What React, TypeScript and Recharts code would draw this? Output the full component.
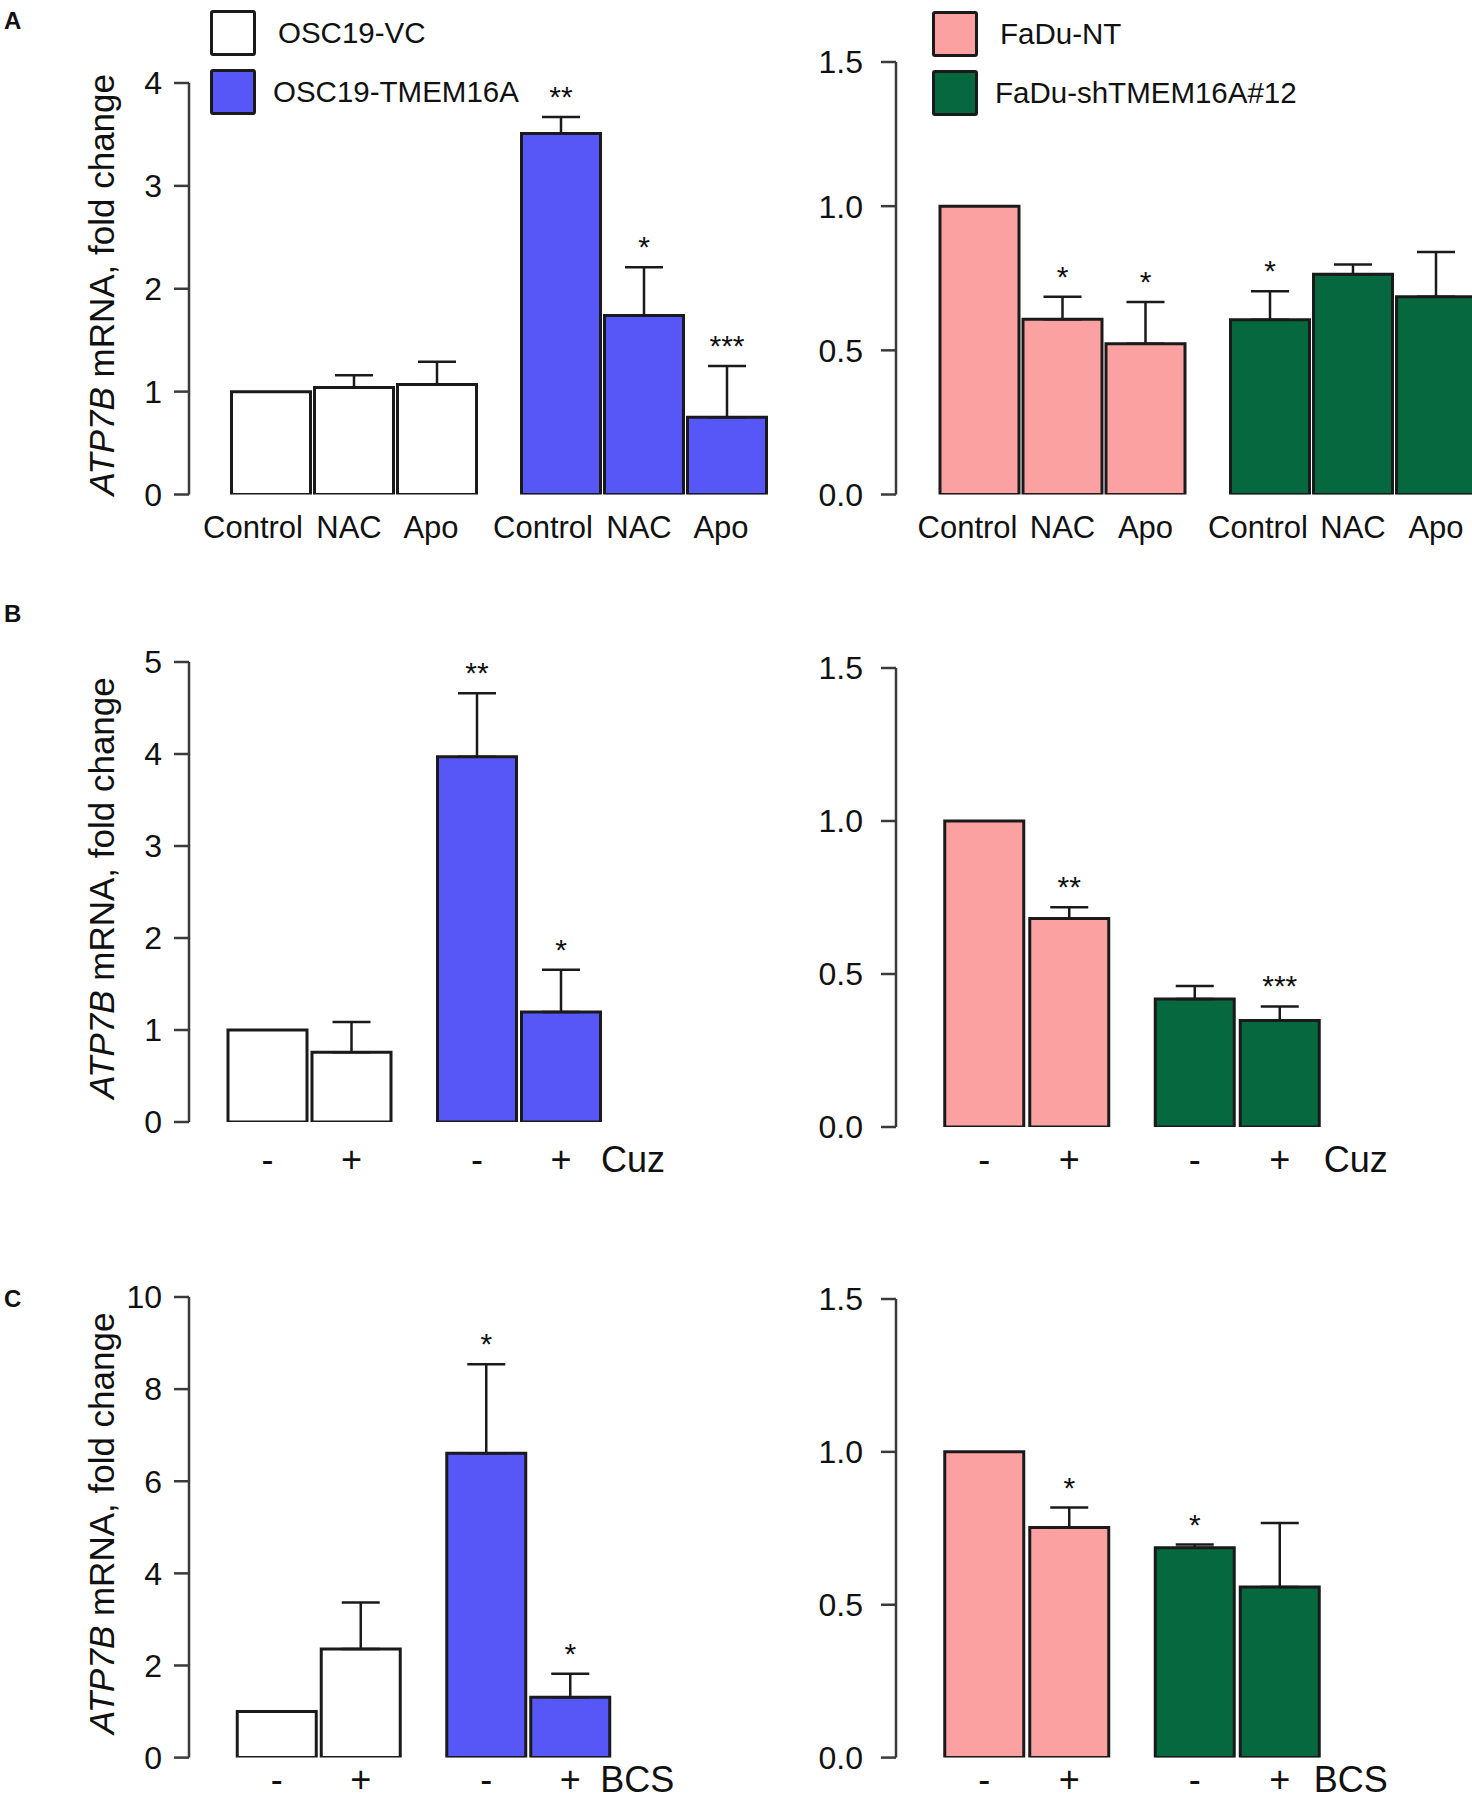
import { BarChart, Bar, XAxis, YAxis, ErrorBar, LabelList, Cell, Legend } from "recharts";

const FONT = "'Liberation Sans', Arial, Helvetica, sans-serif";
const INK = "#1a1a1a";
const AXIS = "#3a3a3a";
const TEXT = "#111111";

const WHITE = "#ffffff";
const BLUE = "#5757f7";
const PINK = "#fca1a1";
const GREEN = "#06683f";

// cell lines
const oscLines = ["OSC19-VC", "OSC19-TMEM16A"];
const faduLines = ["FaDu-NT", "FaDu-shTMEM16A#12"];

// A: ROS scavengers
const treatmentsA = ["Control", "NAC", "Apo"];
const oscVcA = [1.0, 1.04, 1.07];
const oscVcErrA = [0, 0.12, 0.22];
const oscVcSigA = ["", "", ""];
const oscTmA = [3.51, 1.74, 0.75];
const oscTmErrA = [0.16, 0.47, 0.5];
const oscTmSigA = ["**", "*", "***"];

const faduNtA = [1.0, 0.608, 0.523];
const faduNtErrA = [0, 0.078, 0.145];
const faduNtSigA = ["", "*", "*"];
const faduShA = [0.606, 0.764, 0.686];
const faduShErrA = [0.099, 0.034, 0.155];
const faduShSigA = ["*", "", ""];

// B: cuprizone
const treatmentsB = ["-", "+"];
const oscVcB = [1.0, 0.758];
const oscVcErrB = [0, 0.33];
const oscVcSigB = ["", ""];
const oscTmB = [3.97, 1.196];
const oscTmErrB = [0.69, 0.46];
const oscTmSigB = ["**", "*"];

const faduNtB = [1.0, 0.681];
const faduNtErrB = [0, 0.037];
const faduNtSigB = ["", "**"];
const faduShB = [0.418, 0.348];
const faduShErrB = [0.043, 0.046];
const faduShSigB = ["", "***"];

// C: BCS
const oscVcC = [1.0, 2.36];
const oscVcErrC = [0, 1.01];
const oscVcSigC = ["", ""];
const oscTmC = [6.61, 1.31];
const oscTmErrC = [1.93, 0.51];
const oscTmSigC = ["*", "*"];

const faduNtC = [1.0, 0.753];
const faduNtErrC = [0, 0.065];
const faduNtSigC = ["", "*"];
const faduShC = [0.686, 0.558];
const faduShErrC = [0.011, 0.209];
const faduShSigC = ["*", ""];

const oscTicksA = [0, 1, 2, 3, 4];
const oscTicksB = [0, 1, 2, 3, 4, 5];
const oscTicksC = [0, 2, 4, 6, 8, 10];
const faduTicks = [0, 0.5, 1.0, 1.5];

type Row = Record<string, any>;

// one row per cell line, one v/e/s triple per treatment
function buildRows(lines: string[], values: number[][], errs: number[][], sigs: string[][]): Row[] {
  return lines.map((line, i) => {
    const row: Row = { line };
    values[i].forEach((v, j) => {
      row[`v${j}`] = v;
      row[`e${j}`] = errs[i][j];
      row[`eb${j}`] = errs[i][j] > 0 ? [0, errs[i][j]] : null;
      row[`s${j}`] = sigs[i][j];
    });
    return row;
  });
}

const renderYLabel = (props: any) => {
  const vb = props.viewBox;
  const cx = vb.x + 25;
  const cy = vb.y + vb.height / 2 - 4;
  return (
    <text
      x={cx}
      y={cy}
      transform={`rotate(-90, ${cx}, ${cy})`}
      textAnchor="middle"
      fontSize={35}
      fontFamily={FONT}
      fill={TEXT}
    >
      <tspan fontStyle="italic">ATP7B</tspan>
      {" mRNA, fold change"}
    </text>
  );
};

const makeLegend = (names: string[], colors: string[]) => () => (
  <div style={{ fontFamily: FONT, color: TEXT }}>
    {names.map((n, i) => (
      <div key={n} style={{ display: "flex", alignItems: "center", height: 46, marginBottom: 13 }}>
        <span
          style={{
            width: 40,
            height: 40,
            background: colors[i],
            border: `3px solid ${INK}`,
            borderRadius: 3,
            display: "inline-block",
          }}
        />
        <span style={{ marginLeft: i === 0 ? 22 : 17, fontSize: 29.5 }}>{n}</span>
      </div>
    ))}
  </div>
);

interface PanelProps {
  left: number;
  top: number;
  width: number;
  height: number;
  axisX: number;
  plotTop: number;
  plotBottom: number;
  padLeft: number;
  band: number;
  barGap: number;
  rows: Row[];
  colors: string[];
  treatments: string[];
  labelDx?: number[];
  labelFont: number;
  labelDy: number;
  tail?: string;
  tailDx?: number;
  domain: [number, number];
  ticks: number[];
  decimals: number;
  tickMargin: number;
  yLabel?: boolean;
  legend?: { names: string[]; colors: string[]; left: number; top: number };
}

function Panel(p: PanelProps) {
  const plotRight = p.axisX + p.padLeft + p.band * p.rows.length;
  const margin = {
    top: p.plotTop - p.top,
    bottom: p.top + p.height - p.plotBottom,
    left: p.axisX - p.left - 100,
    right: p.left + p.width - plotRight,
  };

  const marks = (j: number) => (props: any) => {
    const vb = props.viewBox ?? props;
    const { x, y, width, height } = vb;
    const i = props.index;
    const row = p.rows[i];
    if (!row) return null;
    const v = row[`v${j}`];
    const e = row[`e${j}`] || 0;
    const capY = y - e * (height / v);
    const cx = x + width / 2;
    const bottom = y + height;
    const sig = row[`s${j}`];
    const isLast = i === p.rows.length - 1 && j === p.treatments.length - 1;
    return (
      <g fontFamily={FONT} fill={TEXT}>
        {sig && (
          <text x={cx} y={capY - 10} textAnchor="middle" fontSize={30}>
            {sig}
          </text>
        )}
        <text
          x={cx + (p.labelDx ? p.labelDx[j] : 0)}
          y={bottom + p.labelDy}
          textAnchor="middle"
          fontSize={p.labelFont}
        >
          {p.treatments[j]}
        </text>
        {p.tail && isLast && (
          <text x={cx + (p.tailDx ?? 40)} y={bottom + p.labelDy} textAnchor="start" fontSize={p.labelFont}>
            {p.tail}
          </text>
        )}
      </g>
    );
  };

  return (
    <div style={{ position: "absolute", left: p.left, top: p.top }}>
      <BarChart width={p.width} height={p.height} data={p.rows} margin={margin} barGap={p.barGap}>
        <XAxis dataKey="line" hide padding={{ left: p.padLeft, right: 0 }} />
        <YAxis
          width={100}
          domain={p.domain}
          ticks={p.ticks}
          interval={0}
          allowDataOverflow
          axisLine={{ stroke: AXIS, strokeWidth: 2.5 }}
          tickLine={{ stroke: AXIS, strokeWidth: 2.5 }}
          tickSize={15}
          tickMargin={p.tickMargin}
          tick={{ fontSize: 32, fill: TEXT, fontFamily: FONT }}
          tickFormatter={(v: number) => v.toFixed(p.decimals)}
          label={p.yLabel ? renderYLabel : undefined}
        />
        {p.legend && (
          <Legend
            layout="vertical"
            align="center"
            verticalAlign="middle"
            content={makeLegend(p.legend.names, p.legend.colors)}
            wrapperStyle={{ left: p.legend.left, top: p.legend.top, width: 420 }}
          />
        )}
        {p.treatments.map((t, j) => (
          <Bar
            key={t}
            dataKey={`v${j}`}
            barSize={79}
            stroke={INK}
            strokeWidth={3}
            isAnimationActive={false}
          >
            {p.rows.map((r, i) => (
              <Cell key={r.line} fill={p.colors[i]} />
            ))}
            <ErrorBar dataKey={`eb${j}`} width={19} stroke={INK} strokeWidth={2.5} isAnimationActive={false} />
            <LabelList dataKey={`v${j}`} content={marks(j)} />
          </Bar>
        ))}
      </BarChart>
    </div>
  );
}

const rowsOscA = buildRows(oscLines, [oscVcA, oscTmA], [oscVcErrA, oscTmErrA], [oscVcSigA, oscTmSigA]);
const rowsFaduA = buildRows(faduLines, [faduNtA, faduShA], [faduNtErrA, faduShErrA], [faduNtSigA, faduShSigA]);
const rowsOscB = buildRows(oscLines, [oscVcB, oscTmB], [oscVcErrB, oscTmErrB], [oscVcSigB, oscTmSigB]);
const rowsFaduB = buildRows(faduLines, [faduNtB, faduShB], [faduNtErrB, faduShErrB], [faduNtSigB, faduShSigB]);
const rowsOscC = buildRows(oscLines, [oscVcC, oscTmC], [oscVcErrC, oscTmErrC], [oscVcSigC, oscTmSigC]);
const rowsFaduC = buildRows(faduLines, [faduNtC, faduShC], [faduNtErrC, faduShErrC], [faduNtSigC, faduShSigC]);

export default function App() {
  return (
    <div
      style={{
        position: "absolute",
        left: 0,
        top: 0,
        width: 1472,
        height: 1800,
        overflow: "hidden",
        background: "#fff",
        fontFamily: FONT,
      }}
    >
      <Panel
        left={0} top={0} width={796} height={560}
        axisX={189} plotTop={83} plotBottom={494.5} padLeft={19.5} band={290} barGap={4}
        rows={rowsOscA} colors={[WHITE, BLUE]} treatments={treatmentsA} labelDx={[-18, -5, -6]}
        labelFont={31} labelDy={43}
        domain={[0, 4]} ticks={oscTicksA} decimals={0} tickMargin={12} yLabel
        legend={{ names: oscLines, colors: [WHITE, BLUE], left: 210, top: 10 }}
      />
      <Panel
        left={796} top={0} width={704} height={560}
        axisX={896} plotTop={62} plotBottom={494.5} padLeft={21} band={290.5} barGap={4}
        rows={rowsFaduA} colors={[PINK, GREEN]} treatments={treatmentsA} labelDx={[-12, 0, 0]}
        labelFont={31} labelDy={43}
        domain={[0, 1.5]} ticks={faduTicks} decimals={1} tickMargin={18}
        legend={{ names: faduLines, colors: [PINK, GREEN], left: 136, top: 11 }}
      />
      <Panel
        left={0} top={600} width={796} height={620}
        axisX={189} plotTop={662} plotBottom={1122} padLeft={16} band={209.5} barGap={5}
        rows={rowsOscB} colors={[WHITE, BLUE]} treatments={treatmentsB}
        labelFont={36} labelDy={50} tail="Cuz" tailDx={40}
        domain={[0, 5]} ticks={oscTicksB} decimals={0} tickMargin={12} yLabel
      />
      <Panel
        left={796} top={600} width={676} height={620}
        axisX={896} plotTop={668} plotBottom={1127} padLeft={25.75} band={210.5} barGap={6}
        rows={rowsFaduB} colors={[PINK, GREEN]} treatments={treatmentsB}
        labelFont={36} labelDy={45} tail="Cuz" tailDx={44}
        domain={[0, 1.5]} ticks={faduTicks} decimals={1} tickMargin={18}
      />
      <Panel
        left={0} top={1240} width={796} height={560}
        axisX={189} plotTop={1297} plotBottom={1757.6} padLeft={25.25} band={209.5} barGap={5}
        rows={rowsOscC} colors={[WHITE, BLUE]} treatments={treatmentsB}
        labelFont={36} labelDy={34} tail="BCS" tailDx={30}
        domain={[0, 10]} ticks={oscTicksC} decimals={0} tickMargin={12} yLabel
      />
      <Panel
        left={796} top={1240} width={676} height={560}
        axisX={896} plotTop={1299} plotBottom={1757.6} padLeft={25.75} band={210.5} barGap={6}
        rows={rowsFaduC} colors={[PINK, GREEN]} treatments={treatmentsB}
        labelFont={36} labelDy={34} tail="BCS" tailDx={34}
        domain={[0, 1.5]} ticks={faduTicks} decimals={1} tickMargin={18}
      />
      <svg
        width={60}
        height={1800}
        style={{ position: "absolute", left: 0, top: 0, pointerEvents: "none" }}
        fontFamily={FONT}
        fontWeight="bold"
        fontSize={24}
        fill={TEXT}
      >
        <text x={4} y={29}>A</text>
        <text x={4} y={622}>B</text>
        <text x={4} y={1307}>C</text>
      </svg>
    </div>
  );
}
